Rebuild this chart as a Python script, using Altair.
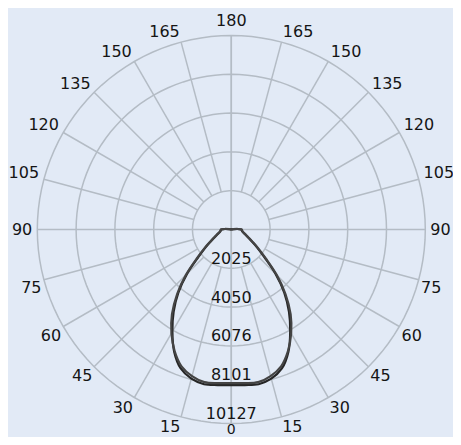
import altair as alt
import pandas as pd
import numpy as np

# ---- data ----
gamma = [0, 5, 10, 15, 20, 25, 30, 35, 40, 45, 50, 55, 60, 65, 70, 75, 80, 85, 90,
         95, 100, 110, 120, 130, 140, 150, 160, 170, 180]
c0_180 = [8120, 8150, 8200, 8060, 7720, 7050, 6150, 5250, 4300, 3250, 2250, 1650, 1230,
          960, 790, 660, 580, 550, 520, 300, 60, 20, 20, 20, 20, 20, 20, 20, 20]
c90_270 = [8020, 8050, 8090, 7920, 7600, 7000, 6250, 5400, 4400, 3350, 2350, 1720, 1270,
           990, 810, 680, 600, 570, 540, 320, 70, 20, 20, 20, 20, 20, 20, 20, 20]
rings = [2025, 4050, 6076, 8101, 10127]
ring_labels = ["2025", "4050", "6076", "8101", "10127"]
angle_ticks = [0, 15, 30, 45, 60, 75, 90, 105, 120, 135, 150, 165, 180]

RMAX = rings[-1]
PX = 194.0 / RMAX          # pixels per candela
W, H = 445, 429
CX, CY = 223.3, 221.5      # centre inside the view, in px
xdom = [-CX / PX, (W - CX) / PX]
ydom = [-(H - CY) / PX, CY / PX]

xs = alt.Scale(domain=xdom, nice=False, zero=False)
ys = alt.Scale(domain=ydom, nice=False, zero=False)

FONT = "DejaVu Sans"
GRID = "#b4bcc5"
BG = "#e2eaf6"
TXT = "#151515"
FS = 16

# ---- curves table ----
rows = []
for name, vals in [("C0-C180", c0_180), ("C90-C270", c90_270)]:
    o = 0
    for g, v in zip(reversed(gamma), reversed(vals)):
        rows.append(dict(curve=name, gamma=g, v=v, side=-1, o=o)); o += 1
    for g, v in zip(gamma[1:], vals[1:]):
        rows.append(dict(curve=name, gamma=g, v=v, side=1, o=o)); o += 1
curves = pd.DataFrame(rows)

# ---- grid tables ----
circ = pd.DataFrame([dict(ring=r, a=a) for r in rings for a in range(0, 361, 3)])
spokes = pd.DataFrame([dict(a=a, side=s, r0=(0 if a % 90 == 0 else rings[0]), r1=RMAX)
                       for s in (-1, 1) for a in angle_ticks])
alabels = pd.DataFrame([dict(a=a, side=s, txt=str(a))
                        for s in (-1, 1) for a in angle_ticks
                        if not (s == -1 and a in (0, 180))])
rlabels = pd.DataFrame(dict(v=rings, txt=ring_labels))

X = alt.X("x:Q", scale=xs, axis=None)
Y = alt.Y("y:Q", scale=ys, axis=None)

circles = alt.Chart(circ).transform_calculate(
    x="datum.ring*sin(datum.a*PI/180)", y="datum.ring*cos(datum.a*PI/180)"
).mark_line(color=GRID, strokeWidth=1.5).encode(x=X, y=Y, detail="ring:N", order="a:Q")

spk = alt.Chart(spokes).transform_calculate(
    x="datum.side*datum.r0*sin(datum.a*PI/180)", y="-datum.r0*cos(datum.a*PI/180)",
    x2="datum.side*datum.r1*sin(datum.a*PI/180)", y2="-datum.r1*cos(datum.a*PI/180)"
).mark_rule(color=GRID, strokeWidth=1.5).encode(x=X, y=Y, x2="x2:Q", y2="y2:Q")

lines = alt.Chart(curves).transform_calculate(
    x="datum.side*datum.v*sin(datum.gamma*PI/180)", y="-datum.v*cos(datum.gamma*PI/180)"
).mark_line(strokeWidth=2.2, interpolate="catmull-rom").encode(
    x=X, y=Y, order="o:Q",
    color=alt.Color("curve:N", scale=alt.Scale(range=["#262626", "#444444"]), legend=None))


def angle_layer(filt, radius, align, baseline, size=FS):
    return alt.Chart(alabels).transform_filter(filt).transform_calculate(
        x=f"datum.side*{radius}*sin(datum.a*PI/180)", y=f"-{radius}*cos(datum.a*PI/180)"
    ).mark_text(font=FONT, fontSize=size, color=TXT, align=align, baseline=baseline).encode(
        x=X, y=Y, text="txt:N")


LR = RMAX * 199 / 194      # upper half and 90
LRB = RMAX * 196.5 / 194   # lower half (kept inside the bottom edge)
LR180 = RMAX * 204 / 194
LR0 = RMAX * (H - CY) / 194  # bottom edge of the drawing
lab_layers = [
    angle_layer("datum.side > 0 && datum.a > 0 && datum.a < 90", LRB, "left", "top"),
    angle_layer("datum.side > 0 && datum.a > 90 && datum.a < 180", LR, "left", "alphabetic"),
    angle_layer("datum.side < 0 && datum.a > 0 && datum.a < 90", LRB, "right", "top"),
    angle_layer("datum.side < 0 && datum.a > 90 && datum.a < 180", LR, "right", "alphabetic"),
    angle_layer("datum.side > 0 && datum.a == 90", LR, "left", "middle"),
    angle_layer("datum.side < 0 && datum.a == 90", LR, "right", "middle"),
    angle_layer("datum.a == 180", LR180, "center", "alphabetic"),
    angle_layer("datum.a == 0", LR0, "center", "bottom", 14),
]

rlab = alt.Chart(rlabels).transform_calculate(
    x="0", y="-datum.v"
).mark_text(font=FONT, fontSize=FS, color=TXT, align="center",
            baseline="alphabetic", dy=-4.5).encode(x=X, y=Y, text="txt:N")

chart = alt.layer(circles, spk, lines, rlab, *lab_layers).properties(
    width=W, height=H, padding=0, background=BG,
    autosize=alt.AutoSizeParams(type="none")
).configure_view(stroke=None)

chart.save("out.html", embed_options={"renderer": "svg", "actions": False})
